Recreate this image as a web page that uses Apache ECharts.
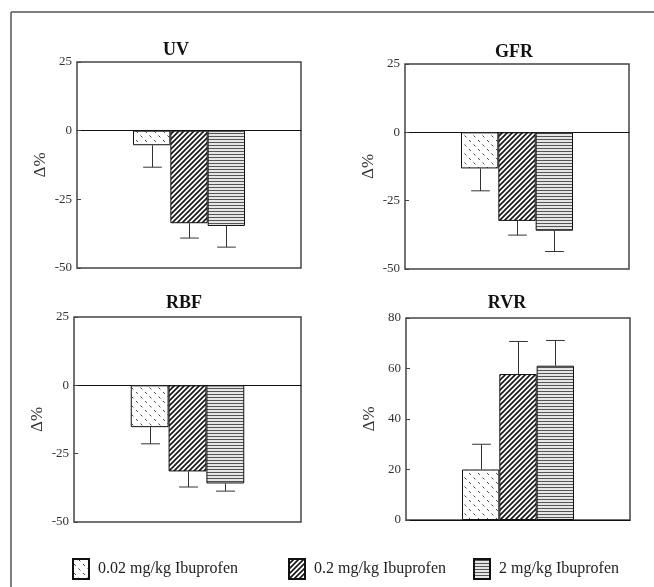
<!DOCTYPE html>
<html><head><meta charset="utf-8">
<script src="https://cdn.jsdelivr.net/npm/echarts@6/dist/echarts.min.js"></script>
<style>html,body{margin:0;padding:0;background:#fff}#c{width:654px;height:587px}</style>
</head><body><div id="c"></div>
<script>
// ---- data ----
const panels = ['UV', 'GFR', 'RBF', 'RVR'];
const doses = ['0.02 mg/kg Ibuprofen', '0.2 mg/kg Ibuprofen', '2 mg/kg Ibuprofen'];
const lowDose  = [-5.3, -13.2, -15.3, 20.0];
const midDose  = [-33.7, -32.4, -31.5, 57.8];
const highDose = [-34.7, -36.0, -35.9, 61.1];
const lowErr  = [8.0, 8.2, 6.1, 10.0];
const midErr  = [5.4, 5.2, 5.7, 12.9];
const highErr = [7.7, 7.6, 2.8, 10.0];
const yMin  = [-50, -50, -50, 0];
const yMax  = [25, 25, 25, 80];
const yStep = [25, 25, 25, 20];
const yName = 'Δ%';

// ---- layout / style ----
const SERIF = '"Liberation Serif", "Times New Roman", serif';
const grids = [
  {left: 77, top: 62, width: 224, height: 206},
  {left: 405, top: 64, width: 224, height: 205},
  {left: 74, top: 317, width: 227, height: 205},
  {left: 406, top: 318, width: 224, height: 202}
];
const titlePos = [[176, 50], [514, 52], [184, 303], [507, 303]];
const legendLeft = [72, 288, 473];

function makeTile(w, h, draw) {
  const c = document.createElement('canvas');
  c.width = w; c.height = h;
  const ctx = c.getContext('2d');
  ctx.fillStyle = '#fff'; ctx.fillRect(0, 0, w, h);
  draw(ctx);
  return {image: c, repeat: 'repeat'};
}
const patLow = makeTile(9, 9, ctx => {
  ctx.strokeStyle = '#444'; ctx.lineWidth = 1;
  ctx.beginPath();
  ctx.moveTo(1, 5); ctx.lineTo(2.9, 6.9);
  ctx.moveTo(5.5, 0.5); ctx.lineTo(7.4, 2.4);
  ctx.stroke();
});
const patMid = makeTile(5, 5, ctx => {
  ctx.strokeStyle = '#1a1a1a'; ctx.lineWidth = 1.7;
  ctx.beginPath();
  ctx.moveTo(-1, 6); ctx.lineTo(6, -1);
  ctx.moveTo(-1, 1); ctx.lineTo(1, -1);
  ctx.moveTo(4, 6); ctx.lineTo(6, 4);
  ctx.stroke();
});
const patHigh = makeTile(4, 3, ctx => {
  ctx.fillStyle = '#e6e6e6'; ctx.fillRect(0, 0, 4, 3);
  ctx.fillStyle = '#555'; ctx.fillRect(0, 1, 4, 1);
});
const patterns = [patLow, patMid, patHigh];
const values = [lowDose, midDose, highDose];
const errs = [lowErr, midErr, highErr];

const option = {
  animation: false,
  backgroundColor: '#fff',
  title: panels.map((t, i) => ({
    text: t, left: titlePos[i][0], top: titlePos[i][1], padding: 0,
    textAlign: 'center', textVerticalAlign: 'middle',
    textStyle: {fontFamily: SERIF, fontSize: 18, fontWeight: 'bold', color: '#111'}
  })),
  legend: doses.map((d, i) => ({
    data: [d], left: legendLeft[i], top: 558, padding: 0,
    itemWidth: 16, itemHeight: 20, icon: 'rect', selectedMode: false,
    textStyle: {fontFamily: SERIF, fontSize: 16, color: '#222', padding: [0, 0, 0, 4]}
  })),
  grid: grids.map(g => Object.assign({show: true, borderColor: '#444', borderWidth: 1.5, backgroundColor: 'transparent'}, g)),
  xAxis: panels.map((p, i) => ({
    type: 'category', gridIndex: i, data: [p],
    axisLabel: {show: false}, axisTick: {show: false},
    axisLine: {show: true, onZero: true, lineStyle: {color: '#111', width: 1}}
  })),
  yAxis: panels.map((p, i) => ({
    type: 'value', gridIndex: i, min: yMin[i], max: yMax[i], interval: yStep[i],
    name: yName, nameLocation: 'middle', nameGap: 28, nameRotate: 90,
    nameTextStyle: {fontFamily: SERIF, fontSize: 17, color: '#333'},
    axisLine: {show: false},
    axisTick: {show: true, inside: true, length: 4, lineStyle: {color: '#444'}},
    splitLine: {show: false},
    axisLabel: {fontFamily: SERIF, fontSize: 13, color: '#333', margin: 5}
  })),
  series: []
};

panels.forEach((p, pi) => {
  doses.forEach((d, di) => {
    option.series.push({
      type: 'bar', name: d, xAxisIndex: pi, yAxisIndex: pi,
      data: [values[di][pi]], barGap: '0%', barCategoryGap: '50%',
      itemStyle: {color: patterns[di], borderColor: '#111', borderWidth: 1}
    });
  });
  option.series.push({
    type: 'custom', name: 'err' + pi, xAxisIndex: pi, yAxisIndex: pi,
    encode: {x: 0, y: 1},
    data: doses.map((d, di) => [0, values[di][pi], errs[di][pi], di]),
    renderItem: function (params, api) {
      const v = api.value(1), e = api.value(2), di = api.value(3);
      const band = api.size([1, 0])[0];
      const bw = band * 0.5 / 3;
      const c0 = api.coord([0, v]);
      const c1 = api.coord([0, v < 0 ? v - e : v + e]);
      const x = Math.round(c0[0] + (di - 1) * bw) + 0.5;
      const half = bw * 0.25;
      const st = {stroke: '#333', lineWidth: 1};
      return {type: 'group', children: [
        {type: 'line', shape: {x1: x, y1: c0[1], x2: x, y2: c1[1]}, style: st},
        {type: 'line', shape: {x1: x - half, y1: c1[1], x2: x + half, y2: c1[1]}, style: st}
      ]};
    },
    z: 3
  });
});

option.graphic = [
  {type: 'line', shape: {x1: 11, y1: 12, x2: 11, y2: 587}, style: {stroke: '#555', lineWidth: 1.5}},
  {type: 'line', shape: {x1: 11, y1: 12, x2: 654, y2: 12}, style: {stroke: '#555', lineWidth: 1.5}}
];

const chart = echarts.init(document.getElementById('c'), null, {renderer: 'canvas'});
chart.setOption(option);
</script>
</body></html>
